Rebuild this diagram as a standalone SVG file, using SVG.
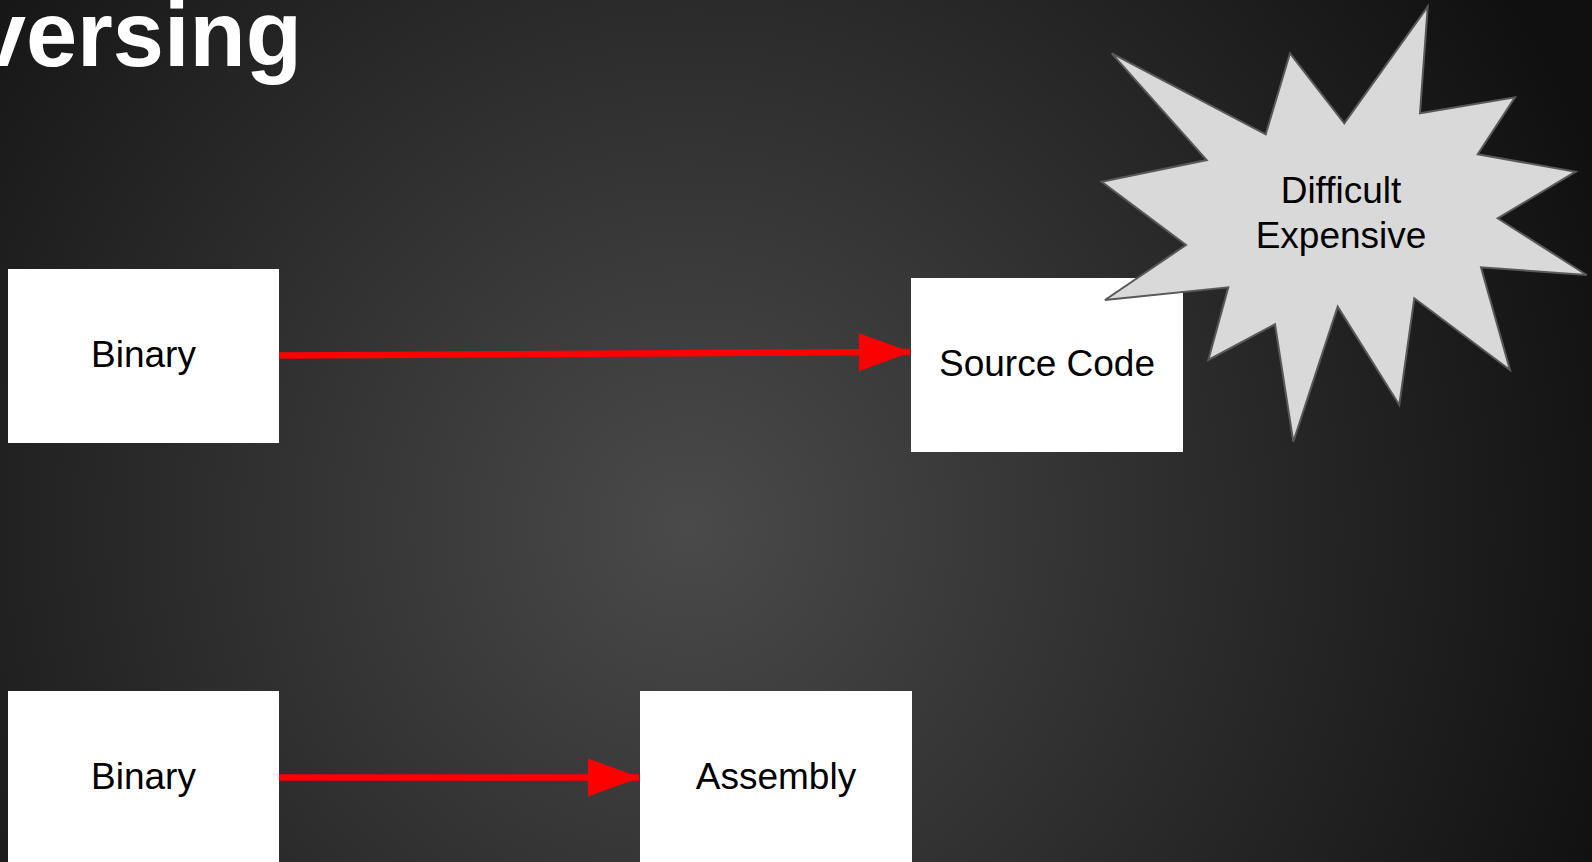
<svg xmlns="http://www.w3.org/2000/svg" width="1592" height="862" viewBox="0 0 1592 862">
<defs>
<radialGradient id="bg" gradientUnits="userSpaceOnUse" cx="690" cy="528" r="980">
<stop offset="0" stop-color="#4a4a4a"/>
<stop offset="1" stop-color="#101010"/>
</radialGradient>
<marker id="ah" markerUnits="userSpaceOnUse" markerWidth="52" markerHeight="38" refX="51" refY="19" orient="auto">
<path d="M0,0 L52,19 L0,38 Z" fill="#ff0000"/>
</marker>
<style>
.box{fill:#ffffff;}
.lbl{font-family:"Liberation Sans",Arial,sans-serif;font-size:37px;fill:#000000;text-anchor:middle;}
.conn{stroke:#ff0000;stroke-width:6.5;fill:none;}
.title{font-family:"Liberation Sans",Arial,sans-serif;font-weight:bold;font-size:92px;fill:#ffffff;text-anchor:end;}
.burst{fill:#d9d9d9;stroke:#595959;stroke-width:2;}
</style>
</defs>
<rect x="0" y="0" width="1592" height="862" fill="url(#bg)"/>
<text class="title" x="302" y="66">versing</text>
<g id="connectors">
<path class="conn" d="M279,355.5 L910,352" marker-end="url(#ah)"/>
<path class="conn" d="M279,777.5 L639,777.5" marker-end="url(#ah)"/>
</g>
<g id="binary1">
<rect class="box" x="8" y="269" width="271" height="174"/>
<text class="lbl" x="143.5" y="367">Binary</text>
</g>
<g id="sourcecode">
<rect class="box" x="911" y="278" width="272" height="174"/>
<text class="lbl" x="1047" y="376">Source Code</text>
</g>
<g id="binary2">
<rect class="box" x="8" y="691" width="271" height="180"/>
<text class="lbl" x="143.5" y="789">Binary</text>
</g>
<g id="assembly">
<rect class="box" x="640" y="691" width="272" height="180"/>
<text class="lbl" x="776" y="789">Assembly</text>
</g>
<g id="starburst">
<polygon class="burst" points="1111.7,53.3 1265.7,134.3 1290,53.3 1344.3,123.3 1427.7,6.7 1420,113.3 1515,97.3 1477.7,154.3 1575.7,171.7 1497.7,218.3 1586.7,275 1481,267.3 1510,370 1414.3,298.3 1399.3,405 1337.7,306.7 1293.3,441.7 1275,324.3 1208.3,360 1228.3,287.3 1105,300 1186,245 1101.7,181.7 1206.7,160"/>
<text class="lbl" x="1341" y="203">Difficult</text>
<text class="lbl" x="1341" y="247.5">Expensive</text>
</g>
</svg>
